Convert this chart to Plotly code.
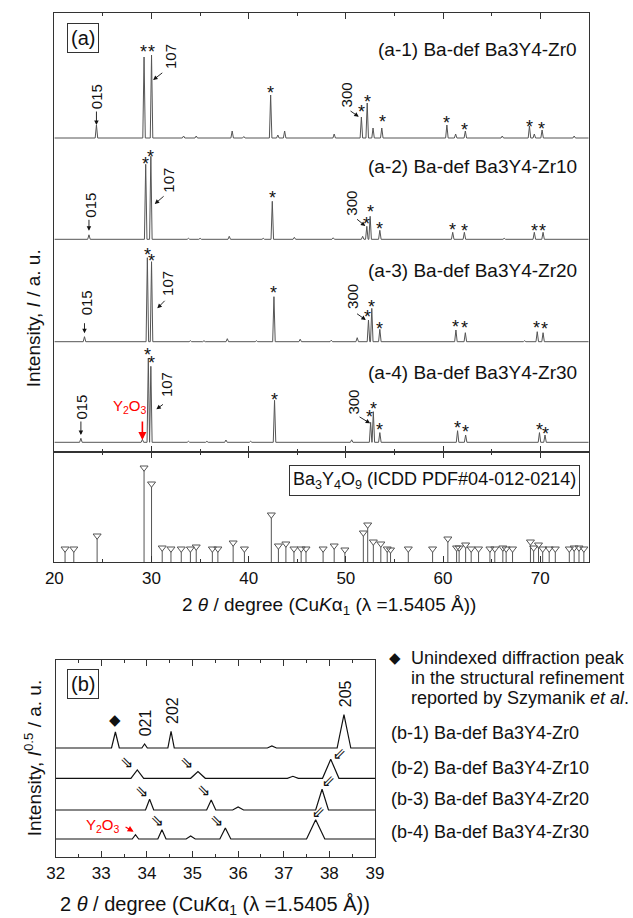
import plotly.graph_objects as go

W, H = 633, 918
FONT = "Liberation Sans, Arial, sans-serif"
FRAME = "#333333"

# ---------------- data: panel (a), XRD patterns ----------------
# peak positions (2theta / deg) and peak heights (a.u.)
a1_pos = [24.33, 29.23, 30.00, 33.3, 34.6, 38.3, 39.5, 42.26, 43.0, 43.7, 48.8,
          51.6, 52.2, 52.8, 53.7, 60.4, 61.3, 62.3, 66.1, 68.9, 69.4, 70.2, 73.5]
a1_int = [13, 81, 83, 2, 2, 7, 1.5, 43, 3, 7, 4,
          21, 35, 10, 10, 13, 4, 7, 2, 12, 4, 8, 2]

a2_pos = [23.56, 29.40, 29.93, 33.8, 35.0, 38.0, 41.5, 42.43, 44.7, 48.7,
          51.73, 52.16, 52.5, 53.5, 61.0, 62.2, 66.3, 69.4, 70.3]
a2_int = [4.5, 75, 83, 1, 1, 3, 1, 38, 2, 1.5,
          3, 13, 23, 9, 7, 7, 1, 7, 7]

a3_pos = [23.1, 29.57, 30.0, 34.0, 35.4, 37.8, 40.8, 42.6, 45.3, 48.5,
          51.17, 52.33, 52.67, 53.5, 61.33, 62.3, 68.4, 69.7, 70.3]
a3_int = [5, 84, 80, 1, 1, 3, 1, 45, 2.5, 1.5,
          4, 21.7, 33.3, 12.4, 11.7, 9, 1, 10, 9]

a4_pos = [22.73, 29.06, 29.67, 29.93, 33.8, 35.7, 37.66, 40.2, 42.66, 50.6,
          52.55, 52.83, 53.5, 61.5, 62.33, 69.93, 70.5]
a4_int = [4, 3, 84, 76, 1, 1, 2.3, 1, 42, 2.5,
          20, 30.6, 9.7, 11.6, 7.3, 9.7, 7.3]

pattern_offsets = [314, 212.7, 110.3, 9.7]
pattern_names = ["(a-1) Ba-def Ba3Y4-Zr0", "(a-2) Ba-def Ba3Y4-Zr10",
                 "(a-3) Ba-def Ba3Y4-Zr20", "(a-4) Ba-def Ba3Y4-Zr30"]

# stars (*) marking Ba3Y4O9 reflections: (2theta, level) per pattern
star_x = [[29.16, 30.0, 42.26, 51.6, 52.23, 53.73, 60.4, 62.26, 68.9, 70.16],
          [29.33, 29.93, 42.43, 52.16, 52.5, 53.5, 61.0, 62.23, 69.4, 70.26],
          [29.56, 30.0, 42.6, 52.26, 52.6, 53.43, 61.33, 62.26, 69.66, 70.4],
          [29.6, 30.0, 42.66, 52.4, 52.83, 53.5, 61.5, 62.33, 69.93, 70.5]]
star_y = [[405.3, 405.3, 363.7, 345.3, 355.3, 334.7, 333.7, 327, 330.3, 328],
          [293, 300.3, 259, 233, 245.3, 227.7, 227, 226, 226, 226],
          [202, 196, 164, 140.3, 150.3, 128, 130.3, 129.3, 128.7, 128],
          [102, 93.7, 57, 40.3, 48, 27, 29.3, 25.3, 27, 22.7]]

# hkl labels: label position, arrow tail, arrow head (2theta, level)
hkl_015 = [((24.33, 355.3), (24.33, 342), (24.33, 327)),
           ((23.63, 247), (23.56, 233.7), (23.56, 221.3)),
           ((23.26, 148.7), (23.1, 130.3), (23.1, 118.7)),
           ((22.83, 45.3), (22.73, 32), (22.73, 17))]
hkl_107 = [((31.93, 395.3), (31.26, 380.3), (30.16, 372)),
           ((31.66, 272), (31.4, 257), (30.33, 248)),
           ((31.66, 168.7), (31.5, 152.7), (30.6, 143.7)),
           ((31.5, 67), (31.33, 48.7), (30.5, 42.7))]
hkl_300 = [((50.06, 357), (50.33, 342), (51.33, 335.3)),
           ((50.5, 249), (51.0, 234), (52.0, 226)),
           ((50.66, 155.3), (51.0, 139.3), (52.06, 132)),
           ((50.83, 50.3), (51.26, 36), (52.5, 28.7))]

# ---------------- data: reference pattern (ICDD PDF#04-012-0214) ----------------
ref_pos = [21.1, 22.0, 24.4, 29.23, 30.0, 31.1, 32.0, 33.06, 34.0, 34.6, 36.26, 36.83,
           38.4, 39.56, 42.33, 43.06, 43.83, 44.66, 45.4, 45.9, 47.66, 48.8, 49.9,
           51.8, 52.25, 52.83, 53.6, 54.26, 54.6, 56.43, 58.93, 60.5, 61.4, 61.66,
           62.33, 62.9, 63.66, 64.83, 65.33, 66.16, 66.5, 67.16, 69.0, 69.33, 69.83,
           70.26, 70.93, 71.56, 73.0, 73.5, 74.0, 74.5]
ref_int = [15, 15, 28, 96, 80, 16, 15, 15, 15, 17, 15, 15,
           21, 15, 49, 18, 20, 15, 15, 15, 15, 18, 14,
           31, 39, 22, 20, 15, 14, 15, 15, 25, 16, 16,
           19, 15, 15, 15, 15, 16, 15, 15, 22, 16, 19,
           15, 15, 15, 15, 16, 16, 15]

# ---------------- data: panel (b), sqrt-intensity patterns 32-39 deg ----------------
b1_pos = [33.31, 33.95, 34.53, 36.74, 38.32]
b1_int = [16, 4, 16.7, 2, 33.3]
b1_hw = [0.085, 0.06, 0.07, 0.1, 0.15]
b2_pos = [33.79, 35.12, 37.2, 38.03]
b2_int = [8.3, 6.7, 2, 19]
b2_hw = [0.14, 0.16, 0.12, 0.18]
b3_pos = [34.06, 35.41, 36.0, 37.84]
b3_int = [10.7, 10, 3, 20.7]
b3_hw = [0.09, 0.1, 0.12, 0.14]
b4_pos = [33.75, 34.33, 34.96, 35.72, 37.7]
b4_int = [4.3, 9.3, 3, 11, 19.3]
b4_hw = [0.07, 0.09, 0.1, 0.12, 0.2]
b_offsets = [109, 78.7, 47, 18]
b_names = ["(b-1) Ba-def Ba3Y4-Zr0", "(b-2) Ba-def Ba3Y4-Zr10",
           "(b-3) Ba-def Ba3Y4-Zr20", "(b-4) Ba-def Ba3Y4-Zr30"]
# hollow arrows marking peak shifts: (2theta, level, direction)
b_arrows = [(33.57, 95, "dr"), (34.88, 95, "dr"), (38.23, 102, "dl"),
            (33.9, 66, "dr"), (35.26, 67, "dr"), (38.0, 75, "dl"),
            (34.23, 36.3, "dr"), (35.54, 37, "dr"), (37.78, 44, "dl")]


def profile(pos, hts, hws, x0, x1, offset):
    xs = {x0, x1}
    for p, w in zip(pos, hws):
        xs.update([p - w, p, p + w])
    xs = sorted(x for x in xs if x0 <= x <= x1)
    ys = []
    for x in xs:
        s = 0.0
        for p, h, w in zip(pos, hts, hws):
            d = abs(x - p)
            if d < w:
                s += h * (1 - d / w)
        ys.append(offset + s)
    return xs, ys


def px_x(px):
    return px / W


def px_y(py):
    return 1 - py / H


def paper_text(px, py, text, size, xanchor="center", yanchor="middle", **kw):
    d = dict(x=px_x(px), y=px_y(py), xref="paper", yref="paper", text=text,
             xanchor=xanchor, yanchor=yanchor, showarrow=False,
             font=dict(family=kw.pop("family", FONT), size=size,
                       color=kw.pop("color", "#111")))
    d.update(kw)
    return d


fig = go.Figure()

# panel (a) patterns
a_sets = [(a1_pos, a1_int), (a2_pos, a2_int), (a3_pos, a3_int), (a4_pos, a4_int)]
for (pos, hts), off in zip(a_sets, pattern_offsets):
    xs, ys = profile(pos, hts, [0.13] * len(pos), 20, 75, off)
    fig.add_trace(go.Scatter(x=xs, y=ys, mode="lines", xaxis="x", yaxis="y",
                             line=dict(color="#555555", width=1), hoverinfo="skip"))

# reference sticks
sx, sy = [], []
for p, t in zip(ref_pos, ref_int):
    sx += [p, p, None]
    sy += [0, t - 5, None]
fig.add_trace(go.Scatter(x=sx, y=sy, mode="lines", xaxis="x2", yaxis="y2",
                         line=dict(color="#555555", width=1), hoverinfo="skip"))
fig.add_trace(go.Scatter(x=ref_pos, y=[t - 1.75 for t in ref_int], mode="markers",
                         xaxis="x2", yaxis="y2",
                         marker=dict(symbol="triangle-down-open", size=7,
                                     color="#555555", line=dict(width=1)),
                         hoverinfo="skip"))

# panel (b) patterns
b_sets = [(b1_pos, b1_int, b1_hw), (b2_pos, b2_int, b2_hw),
          (b3_pos, b3_int, b3_hw), (b4_pos, b4_int, b4_hw)]
for (pos, hts, hws), off in zip(b_sets, b_offsets):
    xs, ys = profile(pos, hts, hws, 32, 39, off)
    fig.add_trace(go.Scatter(x=xs, y=ys, mode="lines", xaxis="x3", yaxis="y3",
                             line=dict(color="#111111", width=1.2), hoverinfo="skip"))

ann = []
# stars
for xs_, ys_ in zip(star_x, star_y):
    for x, y in zip(xs_, ys_):
        ann.append(dict(x=x, y=y, xref="x", yref="y", text="*", showarrow=False,
                        yshift=-5, font=dict(family=FONT, size=18, color="#111")))
# hkl labels + arrows
for group, lab in [(hkl_015, "015"), (hkl_107, "107"), (hkl_300, "300")]:
    for (lp, tail, head) in group:
        ann.append(dict(x=lp[0], y=lp[1], xref="x", yref="y", text=lab, textangle=-90,
                        showarrow=False, font=dict(family=FONT, size=15, color="#111")))
        ann.append(dict(x=head[0], y=head[1], ax=tail[0], ay=tail[1], xref="x", yref="y",
                        axref="x", ayref="y", text="", showarrow=True, arrowhead=2,
                        arrowsize=1, arrowwidth=0.9, arrowcolor="#111"))
# pattern names
for name, py in zip(pattern_names, [50, 166.7, 270, 372]):
    ann.append(paper_text(587, py, name, 19, xanchor="right"))
# Y2O3 in (a-4)
ann.append(dict(x=27.83, y=45.3, xref="x", yref="y", text="Y<sub>2</sub>O<sub>3</sub>",
                showarrow=False, font=dict(family=FONT, size=15, color="red")))
ann.append(dict(x=29.06, y=12, ax=29.06, ay=32, xref="x", yref="y", axref="x", ayref="y",
                text="", showarrow=True, arrowhead=2, arrowsize=1, arrowwidth=1.6,
                arrowcolor="red"))
# (a) label box
ann.append(paper_text(60, 22.7, "(a)", 20, xanchor="left", yanchor="top",
                      bordercolor=FRAME, borderwidth=1, borderpad=3, bgcolor="white"))
# reference box
ann.append(paper_text(437.5, 480,
                      "Ba<sub>3</sub>Y<sub>4</sub>O<sub>9</sub> (ICDD PDF#04-012-0214)", 18,
                      bordercolor=FRAME, borderwidth=1, borderpad=3, bgcolor="white"))
# axis titles panel (a)
ann.append(paper_text(329, 606,
                      "2 <i>θ</i> / degree (Cu<i>K</i>α<sub>1</sub> (λ =1.5405 Å))", 19))
ann.append(paper_text(25, 318, "Intensity, <i>I</i> / a. u.", 19, textangle=-90))

# panel (b) annotations
ann.append(paper_text(60, 669.3, "(b)", 20, xanchor="left", yanchor="top",
                      bordercolor=FRAME, borderwidth=1, borderpad=3, bgcolor="white"))
ann.append(dict(x=33.31, y=137, xref="x3", yref="y3", text="◆", showarrow=False,
                font=dict(family="DejaVu Sans", size=15, color="#111")))
for x, y, lab in [(33.96, 133.7, "021"), (34.55, 147, "202"), (38.34, 163.7, "205")]:
    ann.append(dict(x=x, y=y, xref="x3", yref="y3", text=lab, textangle=-90,
                    showarrow=False, font=dict(family=FONT, size=16, color="#111")))
for x, y, d in b_arrows:
    ann.append(dict(x=x, y=y, xref="x3", yref="y3", text="⇒",
                    textangle=45 if d == "dr" else 135, showarrow=False,
                    font=dict(family="DejaVu Sans", size=16, color="#111")))
ann.append(dict(x=33.04, y=32, xref="x3", yref="y3", text="Y<sub>2</sub>O<sub>3</sub>",
                showarrow=False, font=dict(family=FONT, size=15, color="red")))
ann.append(dict(x=33.71, y=25.3, ax=33.5, ay=31, xref="x3", yref="y3", axref="x3",
                ayref="y3", text="", showarrow=True, arrowhead=2, arrowsize=1,
                arrowwidth=1.2, arrowcolor="red"))
ann.append(paper_text(212, 905,
                      "2 <i>θ</i> / degree (Cu<i>K</i>α<sub>1</sub> (λ =1.5405 Å))", 20))
ann.append(paper_text(25, 758, "Intensity, <i>I</i><sup>0.5</sup> / a. u.", 19,
                      textangle=-90))
# legend text to the right of (b)
ann.append(paper_text(397, 658, "◆", 15, family="DejaVu Sans"))
for txt, py in [("Unindexed diffraction peak", 658),
                ("in the structural refinement", 678),
                ("reported by Szymanik <i>et al</i>.", 697.5)]:
    ann.append(paper_text(412, py, txt, 18, xanchor="left"))
for name, py in zip(b_names, [733, 768, 799, 832]):
    ann.append(paper_text(391, py, name, 18, xanchor="left"))

xa = dict(showline=True, linecolor=FRAME, linewidth=1.3, mirror="ticks",
          ticks="inside", ticklen=6, tickwidth=1.3, tickcolor=FRAME,
          showgrid=False, zeroline=False,
          tickfont=dict(family=FONT, size=17, color="#111"))
ya = dict(showline=True, linecolor=FRAME, linewidth=1.3, mirror=True, ticks="",
          showticklabels=False, showgrid=False, zeroline=False)

dom_a_x = [46.7 / W, 596.7 / W]
fig.update_layout(
    width=W, height=H, margin=dict(l=0, r=0, t=0, b=0),
    paper_bgcolor="white", plot_bgcolor="white", showlegend=False,
    xaxis=dict(xa, domain=dom_a_x, range=[20, 75], tick0=20, dtick=10,
               showticklabels=False, anchor="y",
               minor=dict(ticks="inside", ticklen=3, tickwidth=1.3, tickcolor=FRAME,
                          dtick=5, tick0=20)),
    yaxis=dict(ya, domain=[1 - 452 / H, 1 - 13 / H], range=[0, 439], anchor="x"),
    xaxis2=dict(xa, domain=dom_a_x, range=[20, 75], tick0=20, dtick=10, anchor="y2",
                minor=dict(ticks="inside", ticklen=3, tickwidth=1.3, tickcolor=FRAME,
                           dtick=5, tick0=20)),
    yaxis2=dict(ya, domain=[1 - 562 / H, 1 - 452 / H], range=[0, 110], anchor="x2"),
    xaxis3=dict(xa, domain=[48 / W, 376.7 / W], range=[32, 39], tick0=32, dtick=1,
                anchor="y3",
                minor=dict(ticks="inside", ticklen=3, tickwidth=1.3, tickcolor=FRAME,
                           dtick=0.5, tick0=32)),
    yaxis3=dict(ya, domain=[1 - 857 / H, 1 - 660 / H], range=[0, 197], anchor="x3"),
    annotations=ann,
)

fig.write_html("out.html")
